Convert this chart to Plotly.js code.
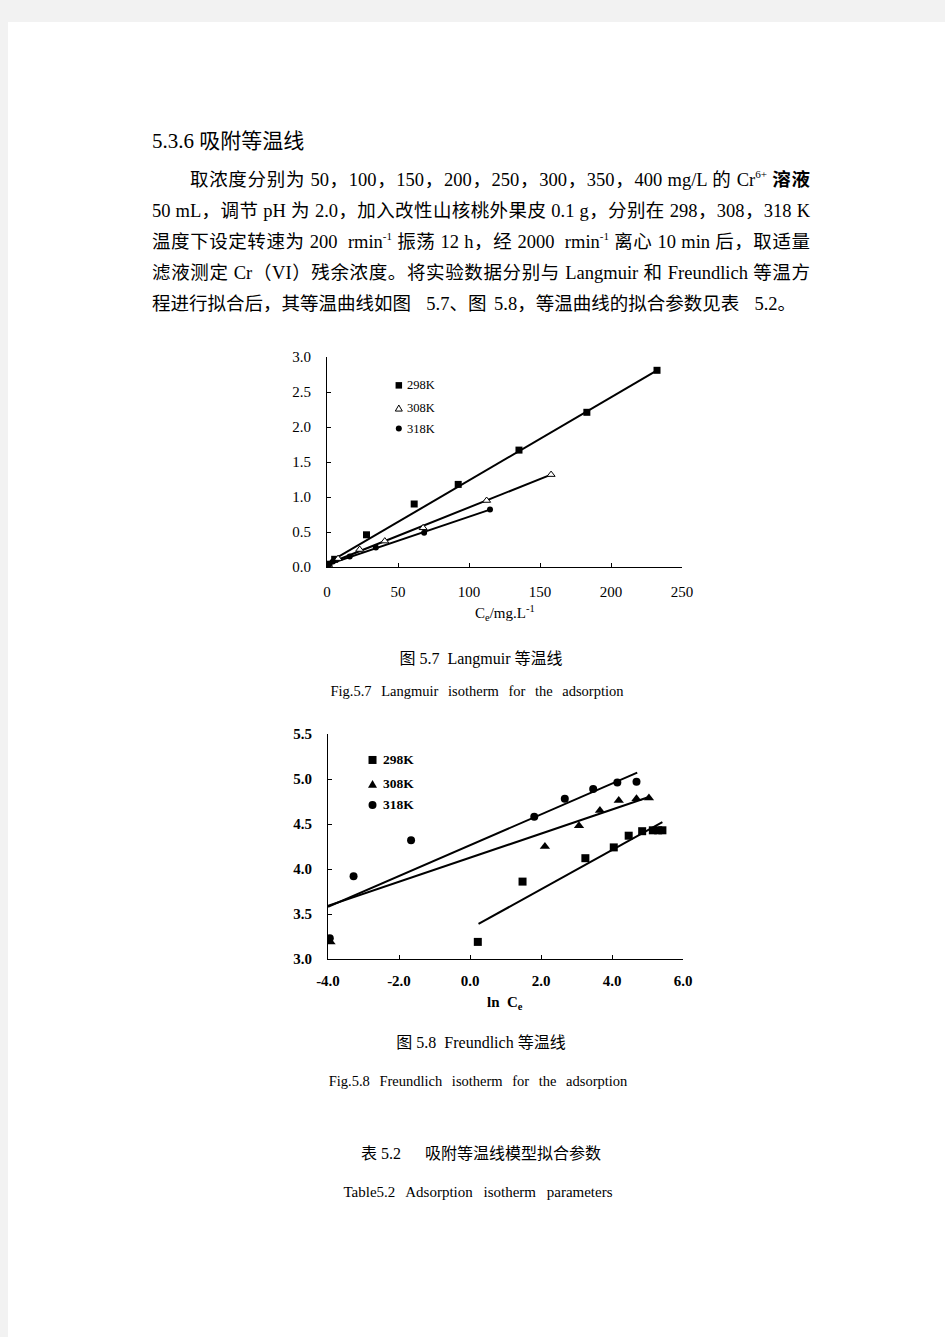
<!DOCTYPE html>
<html>
<head>
<meta charset="utf-8">
<script src="https://cdn.plot.ly/plotly-3.0.1.min.js"></script>
<style>
  html, body { margin:0; padding:0; }
  body { width:945px; height:1337px; background:#f2f2f2; position:relative; overflow:hidden; }
  #page { position:absolute; left:8px; top:22px; right:0; bottom:0; background:#fff; }
  .t { position:absolute; white-space:nowrap; font-family:"Liberation Serif","Noto Sans CJK SC",serif; color:#000; }
  .p { font-size:18.5px; line-height:24px; height:24px; }
  .j { text-align:justify; text-align-last:justify; }
  .c { text-align:center; }
  sup { font-size:0.6em; vertical-align:0.7em; line-height:0; }
  .chart { position:absolute; }
</style>
</head>
<body>
<div id="page"></div>
<div class="t" style="left:152px; top:128px; font-size:21px; line-height:26px;">5.3.6 吸附等温线</div>
<div class="t p j" style="left:190px; top:168px; width:620px;">取浓度分别为 50，100，150，200，250，300，350，400 mg/L 的 Cr<sup>6+</sup> <b>溶液</b></div>
<div class="t p j" style="left:152px; top:199px; width:658px;">50 mL，调节 pH 为 2.0，加入改性山核桃外果皮 0.1 g，分别在 298，308，318 K</div>
<div class="t p j" style="left:152px; top:230px; width:658px;">温度下设定转速为 200 &nbsp;rmin<sup>-1</sup> 振荡 12 h，经 2000 &nbsp;rmin<sup>-1</sup> 离心 10 min 后，取适量</div>
<div class="t p j" style="left:152px; top:261px; width:658px;">滤液测定 Cr（VI）残余浓度。将实验数据分别与 Langmuir 和 Freundlich 等温方</div>
<div class="t p" style="left:152px; top:292px; word-spacing:3px;">程进行拟合后，其等温曲线如图 &nbsp;5.7、图 5.8，等温曲线的拟合参数见表 &nbsp;5.2。</div>

<div id="c1" class="chart" style="left:260px; top:340px; width:460px; height:300px;"></div>
<div id="c2" class="chart" style="left:260px; top:720px; width:460px; height:320px;"></div>

<div class="t c" style="left:281px; width:400px; top:649px; font-size:16px; line-height:20px;">图 5.7 &nbsp;Langmuir 等温线</div>
<div class="t c" style="left:277px; width:400px; top:681px; font-size:14.5px; line-height:20px; word-spacing:6px;">Fig.5.7 Langmuir isotherm for the adsorption</div>
<div class="t c" style="left:281px; width:400px; top:1033px; font-size:16px; line-height:20px;">图 5.8 &nbsp;Freundlich 等温线</div>
<div class="t c" style="left:278px; width:400px; top:1071px; font-size:14.5px; line-height:20px; word-spacing:6px;">Fig.5.8 Freundlich isotherm for the adsorption</div>
<div class="t c" style="left:281px; width:400px; top:1144px; font-size:16px; line-height:20px;">表 5.2 &nbsp;&nbsp;&nbsp;&nbsp;&nbsp;吸附等温线模型拟合参数</div>
<div class="t c" style="left:278px; width:400px; top:1182px; font-size:15px; line-height:20px; word-spacing:7px;">Table5.2 Adsorption isotherm parameters</div>

<script>
// ---------- Fig 5.7 Langmuir (Ce vs Ce/qe) ----------
const lang_298_x = [1.4, 5.4, 27.8, 61.4, 92.4, 135.2, 183.0, 232.4];
const lang_298_y = [0.04, 0.11, 0.46, 0.90, 1.18, 1.67, 2.21, 2.81];
const lang_308_x = [1.4, 7.8, 23.0, 40.7, 67.7, 112.4, 157.8];
const lang_308_y = [0.01, 0.12, 0.25, 0.37, 0.56, 0.95, 1.32];
const lang_318_x = [1.0, 4.2, 16.0, 34.4, 68.4, 114.8];
const lang_318_y = [0.03, 0.08, 0.15, 0.28, 0.49, 0.82];
// fitted lines (end points)
const lang_fit_298_x = [0, 232.4], lang_fit_298_y = [0.05, 2.81];
const lang_fit_308_x = [0, 157.8], lang_fit_308_y = [0.04, 1.32];
const lang_fit_318_x = [0, 114.8], lang_fit_318_y = [0.03, 0.82];
const lang_xticks = [0, 50, 100, 150, 200, 250];
const lang_xticktext = ["0", "50", "100", "150", "200", "250"];
const lang_yticks = [0.0, 0.5, 1.0, 1.5, 2.0, 2.5, 3.0];
const lang_yticktext = ["0.0", "0.5", "1.0", "1.5", "2.0", "2.5", "3.0"];
const legend_names = ["298K", "308K", "318K"];

// ---------- Fig 5.8 Freundlich (ln Ce vs ln qe) ----------
const fr_298_x = [0.22, 1.48, 3.25, 4.05, 4.47, 4.85, 5.15, 5.30, 5.42];
const fr_298_y = [3.19, 3.86, 4.12, 4.24, 4.37, 4.42, 4.43, 4.43, 4.43];
const fr_308_x = [-3.93, 2.11, 3.07, 3.66, 4.19, 4.69, 5.04];
const fr_308_y = [3.19, 4.25, 4.48, 4.65, 4.76, 4.78, 4.79];
const fr_318_x = [-3.95, -3.28, -1.66, 1.81, 2.67, 3.47, 4.15, 4.69];
const fr_318_y = [3.23, 3.92, 4.32, 4.58, 4.78, 4.89, 4.96, 4.97];
const fr_fit_298_x = [0.24, 5.42], fr_fit_298_y = [3.39, 4.52];
const fr_fit_308_x = [-4.0, 5.04], fr_fit_308_y = [3.59, 4.80];
const fr_fit_318_x = [-4.0, 4.71], fr_fit_318_y = [3.58, 5.07];
const fr_xticks = [-4, -2, 0, 2, 4, 6];
const fr_xticktext = ["-4.0", "-2.0", "0.0", "2.0", "4.0", "6.0"];
const fr_yticks = [3.0, 3.5, 4.0, 4.5, 5.0, 5.5];
const fr_yticktext = ["3.0", "3.5", "4.0", "4.5", "5.0", "5.5"];

const FONT = "Liberation Serif, Times New Roman, serif";

function lineTrace(x, y, w) {
  return {x, y, mode:'lines', line:{color:'#000', width:w}, showlegend:false, hoverinfo:'skip'};
}
function markTrace(x, y, sym, size, lw) {
  return {x, y, mode:'markers', showlegend:false,
          marker:{symbol:sym, size:size, color:'#000', line:{color:'#000', width:lw||0}}};
}
function axisBase(ticks, labels, range, standoff, bold) {
  return {
    range: range, tickvals: ticks, ticktext: labels, ticks:'inside', ticklen:4, tickwidth:1, tickcolor:'#000',
    showline:true, linecolor:'#000', linewidth:1, showgrid:false, zeroline:false, mirror:false,
    ticklabelstandoff: standoff,
    tickfont:{family:FONT, size:15, color:'#000', weight: bold ? 'bold' : 'normal'},
    fixedrange:true
  };
}
function sqShape(xp, yp, s) {
  return {type:'rect', xref:'paper', yref:'paper', xsizemode:'pixel', ysizemode:'pixel',
          xanchor:xp, yanchor:yp, x0:-s/2, x1:s/2, y0:-s/2, y1:s/2,
          fillcolor:'#000', line:{width:0}};
}
function circShape(xp, yp, s) {
  return {type:'circle', xref:'paper', yref:'paper', xsizemode:'pixel', ysizemode:'pixel',
          xanchor:xp, yanchor:yp, x0:-s/2, x1:s/2, y0:-s/2, y1:s/2,
          fillcolor:'#000', line:{width:0}};
}
function triShape(xp, yp, s, filled) {
  const h = s*0.87;
  return {type:'path', xref:'paper', yref:'paper', xsizemode:'pixel', ysizemode:'pixel',
          xanchor:xp, yanchor:yp,
          path:`M ${-s/2} ${-h/2} L ${s/2} ${-h/2} L 0 ${h/2} Z`,
          fillcolor: filled ? '#000' : '#fff', line:{color:'#000', width: filled ? 0 : 1}};
}
function legText(xp, yp, txt, size, bold) {
  return {xref:'paper', yref:'paper', x:xp, y:yp, xanchor:'left', yanchor:'middle', showarrow:false,
          text: bold ? '<b>'+txt+'</b>' : txt, font:{family:FONT, size:size, color:'#000'}};
}

// ----- Chart 1 -----
const c1data = [
  lineTrace(lang_fit_298_x, lang_fit_298_y, 2),
  lineTrace(lang_fit_308_x, lang_fit_308_y, 2),
  lineTrace(lang_fit_318_x, lang_fit_318_y, 2),
  markTrace(lang_298_x, lang_298_y, 'square', 7),
  markTrace(lang_308_x, lang_308_y, 'triangle-up', 7, 1),
  markTrace(lang_318_x, lang_318_y, 'circle', 6)
];
c1data[4].marker.color = '#fff';
const c1layout = {
  width:460, height:300, margin:{l:67.3, r:38.3, t:16.7, b:73.3, pad:0},
  paper_bgcolor:'rgba(0,0,0,0)', plot_bgcolor:'rgba(0,0,0,0)',
  xaxis: axisBase(lang_xticks, lang_xticktext, [0, 250], 11, false),
  yaxis: axisBase(lang_yticks, lang_yticktext, [0, 3], 12, false),
  shapes: [ sqShape(0.2023, 0.865, 6.5), triShape(0.2023, 0.757, 7, false), circShape(0.2023, 0.659, 6) ],
  annotations: [
    legText(0.220, 0.865, legend_names[0], 12.5, false),
    legText(0.220, 0.757, legend_names[1], 12.5, false),
    legText(0.220, 0.659, legend_names[2], 12.5, false),
    {xref:'paper', yref:'paper', x:0.5, y:-0.2205, xanchor:'center', yanchor:'middle', showarrow:false,
     text:'C<sub>e</sub>/mg.L<sup>-1</sup>', font:{family:FONT, size:15, color:'#000'}}
  ],
  showlegend:false
};
Plotly.newPlot('c1', c1data, c1layout, {staticPlot:true});

// ----- Chart 2 -----
const c2data = [
  lineTrace(fr_fit_298_x, fr_fit_298_y, 2),
  lineTrace(fr_fit_308_x, fr_fit_308_y, 2),
  lineTrace(fr_fit_318_x, fr_fit_318_y, 2),
  markTrace(fr_298_x, fr_298_y, 'square', 8),
  markTrace(fr_308_x, fr_308_y, 'triangle-up', 9),
  markTrace(fr_318_x, fr_318_y, 'circle', 8)
];
const c2layout = {
  width:460, height:320, margin:{l:67.7, r:36.7, t:14, b:80.7, pad:0},
  paper_bgcolor:'rgba(0,0,0,0)', plot_bgcolor:'rgba(0,0,0,0)',
  xaxis: axisBase(fr_xticks, fr_xticktext, [-4, 6], 8, true),
  yaxis: axisBase(fr_yticks, fr_yticktext, [3, 5.5], 12, true),
  shapes: [ sqShape(0.1254, 0.8846, 8), triShape(0.1254, 0.778, 9, true), circShape(0.1254, 0.685, 8) ],
  annotations: [
    legText(0.150, 0.8846, legend_names[0], 13.5, true),
    legText(0.150, 0.778, legend_names[1], 13.5, true),
    legText(0.150, 0.685, legend_names[2], 13.5, true),
    {xref:'paper', yref:'paper', x:0.4986, y:-0.194, xanchor:'center', yanchor:'middle', showarrow:false,
     text:'<b>ln &nbsp;C<sub>e</sub></b>', font:{family:FONT, size:15, color:'#000'}}
  ],
  showlegend:false
};
Plotly.newPlot('c2', c2data, c2layout, {staticPlot:true});
</script>
</body>
</html>
